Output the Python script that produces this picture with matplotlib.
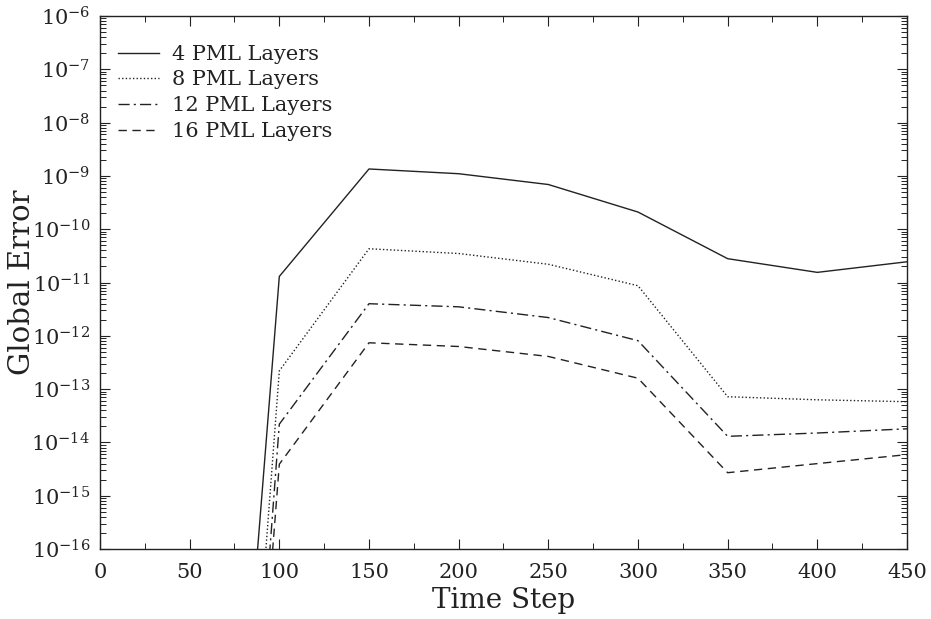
import numpy as np
import matplotlib
matplotlib.use('Agg')
import matplotlib.pyplot as plt
from matplotlib.ticker import LogLocator, MultipleLocator

plt.rcParams['font.family'] = 'DejaVu Serif'
plt.rcParams['mathtext.fontset'] = 'dejavuserif'

# время (шаги) и глобальная ошибка для разного числа слоёв PML
steps = [50, 100, 150, 200, 250, 300, 350, 400, 450]
err_pml4 = [1e-32, 1.3e-11, 1.35e-9, 1.1e-9, 6.9e-10, 2.1e-10, 2.8e-11, 1.55e-11, 2.45e-11]
err_pml8 = [1e-35, 2.2e-13, 4.3e-11, 3.5e-11, 2.2e-11, 8.7e-12, 7.2e-14, 6.3e-14, 5.8e-14]
err_pml12 = [1e-36, 2.2e-14, 4.0e-12, 3.5e-12, 2.2e-12, 8.1e-13, 1.3e-14, 1.5e-14, 1.8e-14]
err_pml16 = [1e-36, 3.9e-15, 7.4e-13, 6.3e-13, 4.1e-13, 1.6e-13, 2.7e-15, 4.0e-15, 5.9e-15]

series = [
    ('4 PML Layers', err_pml4, '-'),
    ('8 PML Layers', err_pml8, (0, (1, 1.6))),
    ('12 PML Layers', err_pml12, (0, (8, 3, 1.5, 3))),
    ('16 PML Layers', err_pml16, (0, (6, 4))),
]

fig = plt.figure(figsize=(9.31, 6.19), dpi=100)
ax = fig.add_axes([0.1074, 0.1131, 0.8668, 0.8610])

for label, vals, ls in series:
    ax.plot(steps, vals, color='#222222', linestyle=ls, linewidth=1.0, label=label)

ax.set_yscale('log')
ax.set_xlim(0, 450)
ax.set_ylim(1e-16, 1e-6)

ax.xaxis.set_major_locator(MultipleLocator(50))
ax.xaxis.set_minor_locator(MultipleLocator(25))
ax.yaxis.set_major_locator(LogLocator(base=10, numticks=20))
ax.yaxis.set_minor_locator(LogLocator(base=10, subs=np.arange(2, 10), numticks=20))

ax.tick_params(which='both', direction='in', top=True, right=True, colors='#222222')
ax.tick_params(which='major', length=7, width=0.8, labelsize=15)
ax.tick_params(axis='y', which='major', pad=7)
ax.tick_params(axis='x', which='major', pad=10)
ax.tick_params(which='minor', length=4, width=0.7)

for s in ax.spines.values():
    s.set_linewidth(1.0)
    s.set_color('#222222')

ax.set_xlabel('Time Step', fontsize=20, color='#222222', labelpad=4)
ax.set_ylabel('Global Error', fontsize=21, color='#222222')
ax.yaxis.set_label_coords(-0.079, 0.5)

leg = ax.legend(loc='upper left', bbox_to_anchor=(0.022, 0.946), frameon=False,
                fontsize=15, handlelength=2.0, handletextpad=0.6,
                labelspacing=0.32, borderaxespad=0, borderpad=0)
for t in leg.get_texts():
    t.set_color('#222222')

fig.savefig('out.png', dpi=100)
